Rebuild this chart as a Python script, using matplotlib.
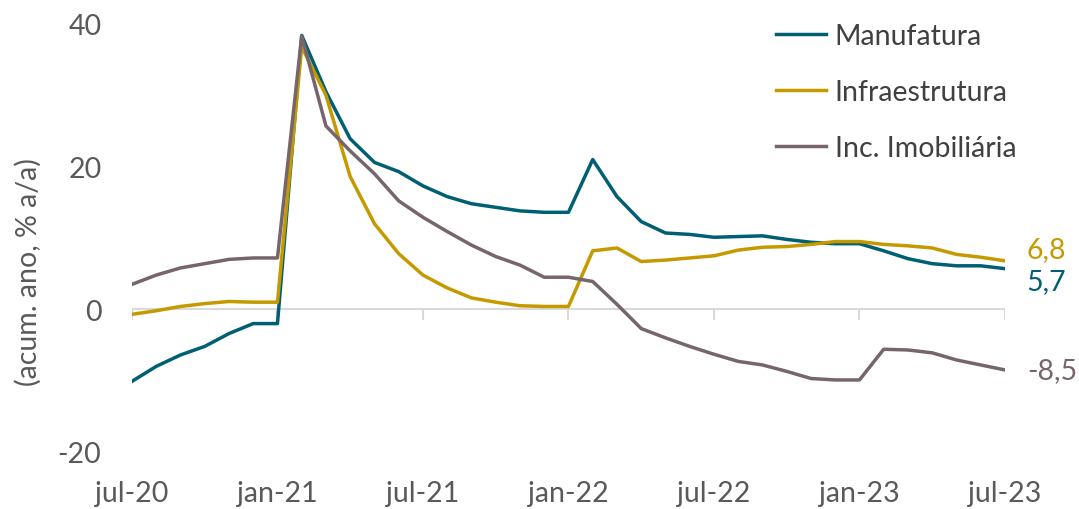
import matplotlib
matplotlib.use("Agg")
import matplotlib.pyplot as plt
import numpy as np

# meses jul-20 .. jul-23 (37 pontos)
months = np.arange(37)
tick_pos = [0, 6, 12, 18, 24, 30, 36]
tick_labels = ["jul-20", "jan-21", "jul-21", "jan-22", "jul-22", "jan-23", "jul-23"]

manufatura = [-10.1, -8.0, -6.4, -5.2, -3.4, -2.0, -2.0, 38.4, 30.5, 23.9,
              20.6, 19.3, 17.3, 15.8, 14.8, 14.3, 13.8, 13.6, 13.6, 21.0,
              15.8, 12.3, 10.7, 10.5, 10.1, 10.2, 10.3, 9.8, 9.4, 9.2,
              9.2, 8.2, 7.1, 6.4, 6.1, 6.1, 5.7]
infraestrutura = [-0.7, -0.2, 0.4, 0.8, 1.1, 1.0, 1.0, 36.8, 30.0, 18.6,
                  12.0, 7.8, 4.8, 3.0, 1.6, 1.0, 0.5, 0.4, 0.4, 8.2,
                  8.6, 6.7, 6.9, 7.2, 7.5, 8.3, 8.7, 8.8, 9.1, 9.5,
                  9.5, 9.1, 8.9, 8.6, 7.7, 7.3, 6.8]
imobiliaria = [3.5, 4.8, 5.8, 6.4, 7.0, 7.2, 7.2, 38.3, 25.7, 22.2,
               19.0, 15.2, 12.9, 10.9, 9.0, 7.4, 6.2, 4.5, 4.5, 3.9,
               0.7, -2.7, -4.0, -5.2, -6.3, -7.3, -7.8, -8.7, -9.7, -9.9,
               -9.9, -5.6, -5.7, -6.1, -7.1, -7.8, -8.5]

TEAL = "#005F73"
GOLD = "#C59A00"
BROWN = "#76666B"
GRAY = "#595959"
FS = 20.5

plt.rcParams["font.family"] = ["Lato", "DejaVu Sans"]
plt.rcParams["axes.unicode_minus"] = False

fig = plt.figure(figsize=(10.79, 5.10), dpi=100)
ax = fig.add_axes([0.1223, 0.1118, 0.8091, 0.8392])

ax.axhline(0, color="#D9D9D9", lw=1.5, zorder=1)
for p in tick_pos:
    ax.plot([p, p], [0, -1.4], color="#D9D9D9", lw=1.5, zorder=1)

ax.plot(months, manufatura, color=TEAL, lw=2.5, label="Manufatura", zorder=3)
ax.plot(months, infraestrutura, color=GOLD, lw=2.5, label="Infraestrutura", zorder=3)
ax.plot(months, imobiliaria, color=BROWN, lw=2.5, label="Inc. Imobiliária", zorder=3)

ax.set_xlim(0, 36)
ax.set_ylim(-20, 40)
ax.set_yticks([-20, 0, 20, 40])
ax.set_xticks(tick_pos)
ax.set_xticklabels(tick_labels)
ax.tick_params(axis="x", length=0, pad=20, labelsize=FS, labelcolor=GRAY)
ax.tick_params(axis="y", length=0, pad=22, labelsize=FS, labelcolor=GRAY)
for s in ax.spines.values():
    s.set_visible(False)

# rótulos finais
ax.text(36.9, infraestrutura[-1] + 1.6, "6,8", color=GOLD, fontsize=FS, va="center")
ax.text(36.9, manufatura[-1] - 1.8, "5,7", color=TEAL, fontsize=FS, va="center")
ax.text(36.9, imobiliaria[-1], "-8,5", color=BROWN, fontsize=FS, va="center")

fig.text(0.026, 0.467, "(acum. ano, % a/a)", rotation=90, fontsize=FS,
         color=GRAY, ha="center", va="center")

leg = ax.legend(loc="upper left", bbox_to_anchor=(0.725, 1.028), frameon=False,
                fontsize=FS, handlelength=1.75, handletextpad=0.3,
                labelspacing=1.05, labelcolor="#404040", borderaxespad=0)

fig.savefig("out.png", dpi=100)
